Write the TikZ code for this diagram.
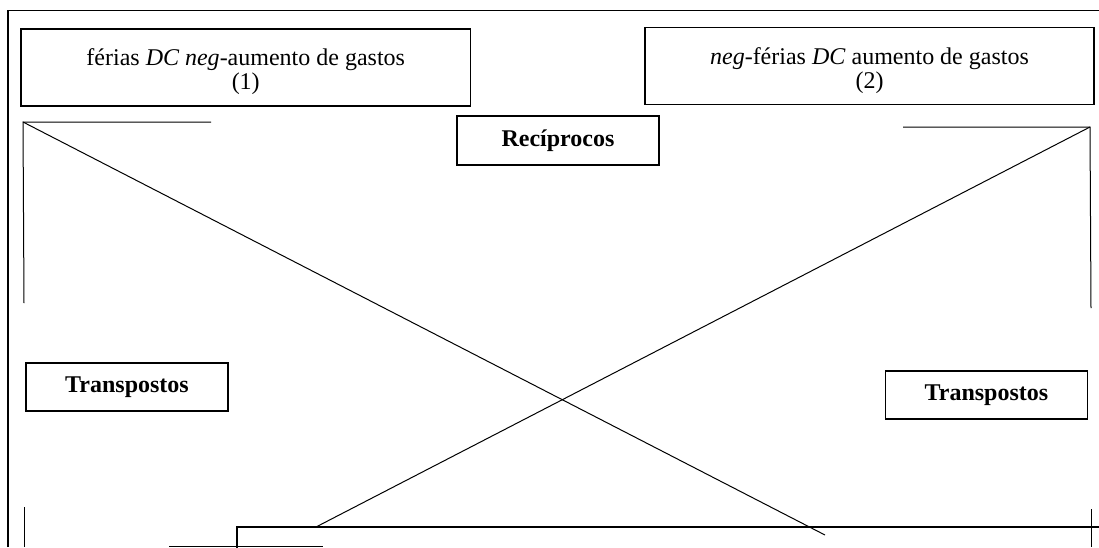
\documentclass[tikz,border=0pt]{standalone}
\usepackage{fontspec}
\setmainfont{Liberation Serif}

\begin{document}
\begin{tikzpicture}[x=0.5pt,y=-0.5pt,
		caixa/.style={draw,line width=0.9pt,inner sep=0pt,align=center,
			minimum width=224.75pt,minimum height=38.5pt,
			font=\fontsize{12}{12}\selectfont},
		rotulo/.style={draw,line width=0.9pt,inner sep=0pt,
			minimum width=101pt,minimum height=24.25pt,
			font=\fontsize{12}{14}\selectfont\bfseries},
		linha/.style={line width=0.5pt}]
		\useasboundingbox (0,0) rectangle (1099,547);
		% moldura
		\draw[line width=0.75pt] (8,547) -- (8,10.5) -- (1099,10.5);
		\node[caixa](um) at (245.75,67.5){\rule{0pt}{13pt}férias \textit{DC neg}-aumento de gastos\\(1)};
		\node[caixa](dois) at (869.5,66){\rule{0pt}{13pt}\textit{neg}-férias \textit{DC} aumento de gastos\\(2)};
		\node[rotulo](recip) at (558,140.5){Recíprocos};
		\node[rotulo](transpA) at (127,387){Transpostos};
		\node[rotulo](transpB) at (986.4,395){Transpostos};
		% cantos e diagonais
		\coordinate (c1) at (23,122);
		\coordinate (h1) at (211,122);
		\coordinate (v1) at (24,303);
		\coordinate (d1) at (825,535);
		\coordinate (c2) at (1090,127);
		\coordinate (h2) at (903,127);
		\coordinate (v2) at (1091,308);
		\coordinate (d2) at (316,527);
		\draw[linha] (h1) -- (c1) -- (v1);
		\draw[linha] (c1) -- (d1);
		\draw[linha] (h2) -- (c2) -- (v2);
		\draw[linha] (c2) -- (d2);
		% parte de baixo
		\coordinate (e1) at (24,507);
		\coordinate (e2) at (24,547);
		\coordinate (f1) at (1091,509);
		\coordinate (f2) at (1091,547);
		\coordinate (g1) at (169,546);
		\coordinate (g2) at (323,546);
		\draw[linha] (e1) -- (e2);
		\draw[linha] (f1) -- (f2);
		\draw[linha] (g1) -- (g2);
		\coordinate (k1) at (237,548);
		\coordinate (k2) at (237,527);
		\coordinate (k3) at (1099,527);
		\draw[line width=1.1pt] (k1) -- (k2) -- (k3);
	\end{tikzpicture}
\end{document}
